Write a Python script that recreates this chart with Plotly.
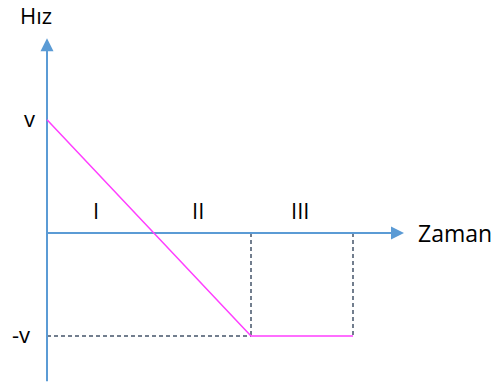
import plotly.graph_objects as go

# speed-time values
times = [0, 2, 3]
speeds = [1.1, -1.0, -1.0]
v_label = ["v", "-v"]
regions = ["I", "II", "III"]
region_bounds = [0, 1, 2, 3]
axis_titles = ["Hız", "Zaman"]

AX = "#5B9BD5"
DASH = "#44546A"
PINK = "#FF3FFF"
FONT = dict(family="Open Sans, Liberation Sans, sans-serif", size=22, color="black")

fig = go.Figure()

# dashed guides
fig.add_trace(go.Scatter(x=[0, times[1]], y=[speeds[1], speeds[1]], mode="lines",
                         line=dict(color=DASH, width=1.5, dash="4px,3px"), hoverinfo="skip"))
for t in times[1:]:
    fig.add_trace(go.Scatter(x=[t, t], y=[0, speeds[1]], mode="lines",
                             line=dict(color=DASH, width=1.5, dash="4px,3px"), hoverinfo="skip"))

# axes with arrows
x_end, y_end, y_low = 3.5, 1.89, -1.44
fig.add_trace(go.Scatter(x=[0, 0], y=[y_low, y_end - 0.08], mode="lines",
                         line=dict(color=AX, width=2), hoverinfo="skip"))
fig.add_trace(go.Scatter(x=[0, x_end - 0.08], y=[0, 0], mode="lines",
                         line=dict(color=AX, width=2), hoverinfo="skip"))
fig.add_annotation(x=0, y=y_end, ax=0, ay=y_end - 0.1, xref="x", yref="y", axref="x", ayref="y",
                   showarrow=True, arrowhead=2, arrowsize=1.3, arrowwidth=2, arrowcolor=AX, text="")
fig.add_annotation(x=x_end, y=0, ax=x_end - 0.1, ay=0, xref="x", yref="y", axref="x", ayref="y",
                   showarrow=True, arrowhead=2, arrowsize=1.3, arrowwidth=2, arrowcolor=AX, text="")

# speed graph
fig.add_trace(go.Scatter(x=times, y=speeds, mode="lines",
                         line=dict(color=PINK, width=1.5), hoverinfo="skip"))

# labels
fig.add_annotation(x=0, y=speeds[0], text=v_label[0], showarrow=False, xshift=-18, yshift=2, font=FONT)
fig.add_annotation(x=0, y=speeds[1], text=v_label[1], showarrow=False, xshift=-26, yshift=2, font=FONT)
fig.add_annotation(x=0, y=2.12, text=axis_titles[0], showarrow=False, xshift=-11, font=FONT)
fig.add_annotation(x=x_end, y=0, text=axis_titles[1], showarrow=False, xanchor="left", xshift=12,
                   font=dict(FONT, size=23))
for i, r in enumerate(regions):
    mid = (region_bounds[i] + region_bounds[i + 1]) / 2
    fig.add_annotation(x=mid, y=0, text=r, showarrow=False, yshift=23, xshift=-2, font=FONT)

fig.update_layout(
    width=498, height=391, margin=dict(l=0, r=0, t=0, b=0),
    plot_bgcolor="white", paper_bgcolor="white", showlegend=False,
    xaxis=dict(range=[-47 / 102, 451 / 102], visible=False),
    yaxis=dict(range=[-158 / 103, 233 / 103], visible=False),
)
fig.write_html("out.html", config=dict(displayModeBar=False),
               post_script="document.body.style.margin='0';")
